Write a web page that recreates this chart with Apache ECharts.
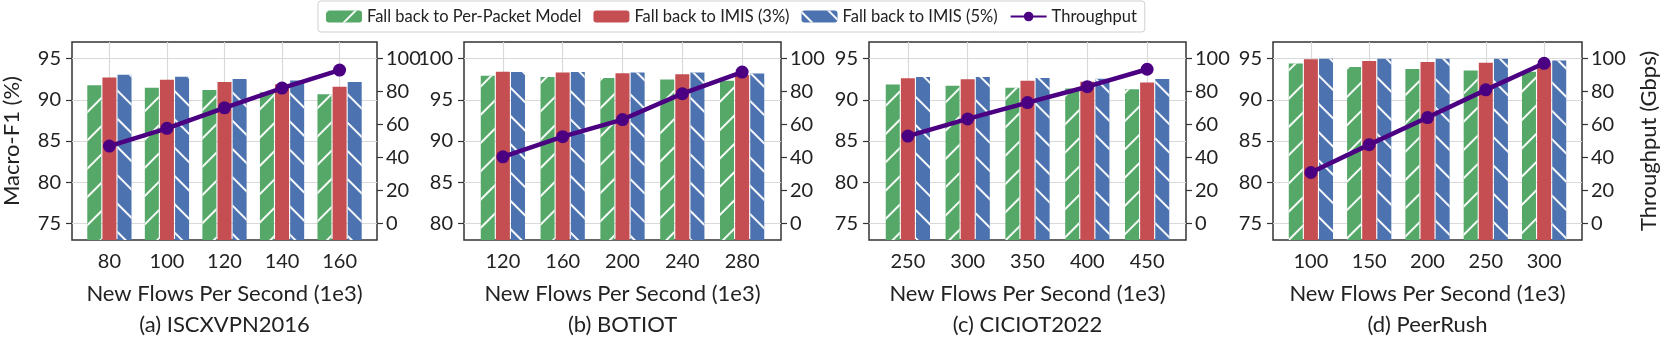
<!DOCTYPE html>
<html>
<head>
<meta charset="utf-8">
<script src="https://cdn.jsdelivr.net/npm/echarts@6/dist/echarts.min.js"></script>
<style>
  html, body { margin: 0; padding: 0; background: #fff; }
  #chart { width: 1661px; height: 345px; }
</style>
</head>
<body>
<div id="chart"></div>
<script>
// 数据
const catsA = ['80', '100', '120', '140', '160']
const catsB = ['120', '160', '200', '240', '280']
const catsC = ['250', '300', '350', '400', '450']
const catsD = ['100', '150', '200', '250', '300']

const perPacketA = [91.76, 91.46, 91.19, 90.92, 90.66]
const imis3A = [92.71, 92.41, 92.14, 91.88, 91.57]
const imis5A = [93.02, 92.79, 92.52, 92.33, 92.14]
const thrA = [46.9, 57.7, 70.1, 82.1, 93.0]

const perPacketB = [97.90, 97.75, 97.64, 97.45, 97.30]
const imis3B = [98.40, 98.29, 98.20, 98.10, 98.00]
const imis5B = [98.36, 98.36, 98.29, 98.29, 98.17]
const thrB = [40.4, 52.6, 63.0, 78.7, 91.8]

const perPacketC = [91.84, 91.69, 91.46, 91.35, 91.27]
const imis3C = [92.60, 92.49, 92.30, 92.18, 92.10]
const imis5C = [92.75, 92.75, 92.64, 92.56, 92.52]
const thrC = [53.0, 63.4, 73.3, 82.9, 93.5]

const perPacketD = [94.39, 93.97, 93.74, 93.55, 93.40]
const imis3D = [94.92, 94.70, 94.58, 94.50, 94.40]
const imis5D = [94.96, 94.96, 94.96, 94.96, 94.77]
const thrD = [30.9, 47.8, 64.2, 81.0, 97.1]

const titles = ['(a) ISCXVPN2016', '(b) BOTIOT', '(c) CICIOT2022', '(d) PeerRush']
const f1Ticks = [[75, 80, 85, 90, 95], [80, 85, 90, 95, 100], [75, 80, 85, 90, 95], [75, 80, 85, 90, 95]]
const thrTicks = [0, 20, 40, 60, 80, 100]

const panels = [
  {cats: catsA, pp: perPacketA, i3: imis3A, i5: imis5A, thr: thrA},
  {cats: catsB, pp: perPacketB, i3: imis3B, i5: imis5B, thr: thrB},
  {cats: catsC, pp: perPacketC, i3: imis3C, i5: imis5C, thr: thrC},
  {cats: catsD, pp: perPacketD, i3: imis3D, i5: imis5D, thr: thrD},
]

const NAMES = ['Fall back to Per-Packet Model', 'Fall back to IMIS (3%)', 'Fall back to IMIS (5%)', 'Throughput']
const GREEN = '#55a868', RED = '#c44e52', BLUE = '#4c72b0', PURPLE = '#4b0082'
const FONT = 'Lato'
const TEXT = '#222'

// 斜线填充
const hatch = (rot) => ({
  symbol: 'rect',
  symbolSize: 1,
  dashArrayX: [1, 0],
  dashArrayY: [1.6, 17.5],
  rotation: rot,
  color: 'rgba(255,255,255,0.95)',
})

const lefts = [60, 464, 869, 1273]

const grid = [], xAxis = [], yAxis = [], series = []

panels.forEach((p, k) => {
  grid.push({
    left: lefts[k], top: 42, width: 317, height: 210,
    show: true, borderColor: '#333', borderWidth: 1.5, containLabel: false,
  })
  xAxis.push({
    gridIndex: k,
    type: 'value',
    min: -0.65, max: 4.65,
    name: 'New Flows Per Second (1e3)\n' + titles[k],
    nameLocation: 'middle',
    nameGap: 38,
    nameTextStyle: {fontFamily: FONT, fontSize: 22, color: TEXT, lineHeight: 31},
    axisLine: {show: false, onZero: false},
    axisTick: {show: false, customValues: [0, 1, 2, 3, 4]},
    axisLabel: {
      customValues: [0, 1, 2, 3, 4],
      formatter: (v) => p.cats[Math.round(v)],
      fontFamily: FONT, fontSize: 20, color: TEXT, margin: 12,
    },
    splitLine: {show: true, lineStyle: {color: '#d9d9d9', width: 1.2}},
  })
  const lo = f1Ticks[k][0] - 2
  const left = {
    gridIndex: k,
    type: 'value',
    position: 'left',
    min: lo, max: lo + 24,
    axisLine: {show: false, onZero: false},
    axisTick: {show: true, length: 6, customValues: f1Ticks[k], lineStyle: {color: '#333', width: 1.2}},
    axisLabel: {customValues: f1Ticks[k], fontFamily: FONT, fontSize: 20, color: TEXT, margin: 11},
    splitLine: {show: true, lineStyle: {color: '#d9d9d9', width: 1.2}},
  }
  if (k === 0) {
    Object.assign(left, {
      name: 'Macro-F1 (%)', nameLocation: 'middle', nameRotate: 90, nameGap: 49,
      nameTextStyle: {fontFamily: FONT, fontSize: 22, color: TEXT},
    })
  }
  yAxis.push(left)
  const right = {
    gridIndex: k,
    type: 'value',
    position: 'right',
    min: -10, max: 110,
    axisLine: {show: false, onZero: false},
    axisTick: {show: true, length: 6, customValues: thrTicks, lineStyle: {color: '#333', width: 1.2}},
    axisLabel: {customValues: thrTicks, fontFamily: FONT, fontSize: 20, color: TEXT, margin: 9},
    splitLine: {show: false},
  }
  if (k === 3) {
    Object.assign(right, {
      name: 'Throughput (Gbps)', nameLocation: 'middle', nameRotate: 90, nameGap: 56,
      nameTextStyle: {fontFamily: FONT, fontSize: 22, color: TEXT},
    })
  }
  yAxis.push(right)

  const bar = (name, vals, color, decal) => ({
    name, type: 'bar',
    xAxisIndex: k, yAxisIndex: 2 * k,
    barWidth: 14, barGap: '8%',
    itemStyle: decal ? {color, decal} : {color},
    data: vals.map((v, i) => [i, v]),
    z: 2,
  })
  series.push(bar(NAMES[0], p.pp, GREEN, hatch(-Math.PI / 4)))
  series.push(bar(NAMES[1], p.i3, RED))
  series.push(bar(NAMES[2], p.i5, BLUE, hatch(Math.PI / 4)))
  series.push({
    name: NAMES[3], type: 'line',
    xAxisIndex: k, yAxisIndex: 2 * k + 1,
    symbol: 'circle', symbolSize: 13,
    lineStyle: {color: PURPLE, width: 4.5},
    itemStyle: {color: PURPLE},
    data: p.thr.map((v, i) => [i, v]),
    z: 5,
  })
})

const myChart = echarts.init(document.getElementById('chart'), null, {renderer: 'canvas'})
myChart.setOption({
  backgroundColor: '#fff',
  animation: false,
  legend: {
    data: NAMES,
    top: 1, left: 318,
    padding: [7, 8],
    itemWidth: 36, itemHeight: 12,
    itemGap: 12,
    borderColor: '#d0d0d0', borderWidth: 1, borderRadius: 3,
    textStyle: {fontFamily: FONT, fontSize: 16.5, color: TEXT},
  },
  grid, xAxis, yAxis, series,
})
</script>
</body>
</html>
